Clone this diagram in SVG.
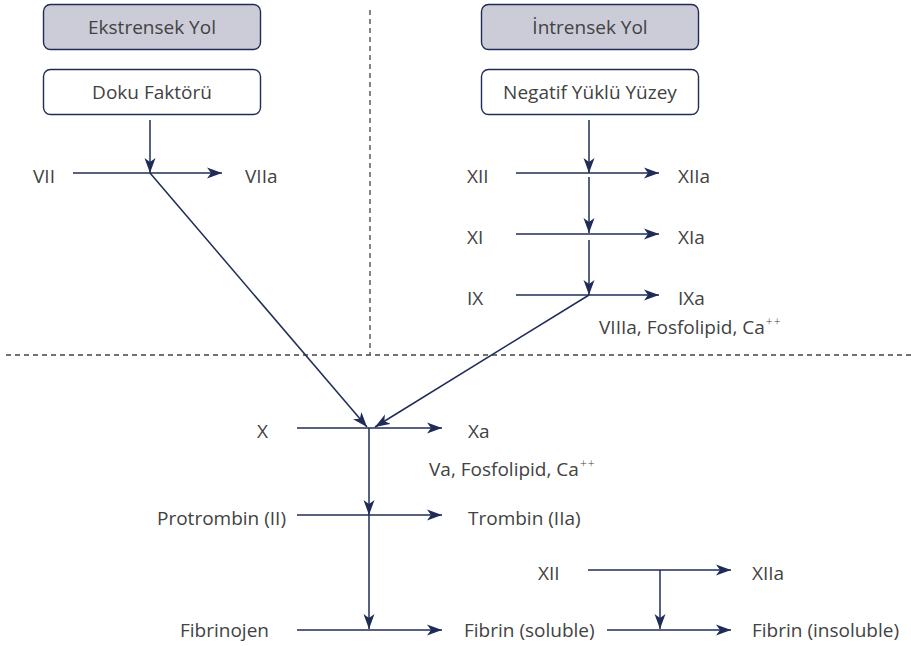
<svg xmlns="http://www.w3.org/2000/svg" width="911" height="646" viewBox="0 0 911 646">
  <defs>
    <marker id="arr" markerUnits="userSpaceOnUse" markerWidth="16" markerHeight="12" viewBox="0 0 16 12" refX="15" refY="6" orient="auto">
      <path d="M0,0.5 L15,6 L0,11.5 L4,6 z" fill="#1f2c58"/>
    </marker>
  </defs>
  <style>
    .box { stroke: #1f2c58; stroke-width: 1.4; }
    .head { fill: #cccbd8; }
    .plain { fill: #ffffff; }
    text { font-family: "Open Sans", "Noto Sans", sans-serif; font-size: 19px; font-weight: 400; fill: #424242; }
    .c { text-anchor: middle; }
    .ln { stroke: #1f2c58; stroke-width: 1.5; fill: none; }
    .ar { marker-end: url(#arr); }
    .dash { stroke: #444444; stroke-width: 1.3; stroke-dasharray: 5 4; fill: none; }
    .sup { font-size: 12px; font-weight: 300; letter-spacing: 1px; }
  </style>
  <rect width="911" height="646" fill="#ffffff"/>

  <!-- pathway separators -->
  <g id="separators">
    <line class="dash" x1="370" y1="10" x2="370" y2="355"/>
    <line class="dash" x1="6" y1="355" x2="911" y2="355"/>
  </g>

  <!-- header and trigger boxes -->
  <g id="ekstrensek">
    <rect class="box head" x="43.5" y="4.5" width="217" height="45" rx="7"/>
    <text class="c" x="152" y="34">Ekstrensek Yol</text>
  </g>
  <g id="doku">
    <rect class="box plain" x="43.5" y="69.5" width="217" height="45" rx="7"/>
    <text class="c" x="152" y="99">Doku Faktörü</text>
  </g>
  <g id="intrensek">
    <rect class="box head" x="481.5" y="4.5" width="217" height="45" rx="7"/>
    <text class="c" x="590" y="34">İntrensek Yol</text>
  </g>
  <g id="negatif">
    <rect class="box plain" x="481.5" y="69.5" width="217" height="45" rx="7"/>
    <text class="c" x="590" y="99">Negatif Yüklü Yüzey</text>
  </g>

  <!-- factor labels -->
  <g id="labels">
    <text x="33" y="183">VII</text>
    <text x="245" y="183">VIIa</text>
    <text x="467" y="183">XII</text>
    <text x="678" y="183">XIIa</text>
    <text x="467" y="244">XI</text>
    <text x="678" y="244">XIa</text>
    <text x="467" y="305">IX</text>
    <text x="678" y="305">IXa</text>
    <text x="599" y="334">VIIIa, Fosfolipid, Ca<tspan class="sup" dx="1" dy="-8">++</tspan></text>
    <text x="257" y="438">X</text>
    <text x="468" y="438">Xa</text>
    <text x="429" y="476">Va, Fosfolipid, Ca<tspan class="sup" dx="1" dy="-8">++</tspan></text>
    <text x="157" y="525">Protrombin (II)</text>
    <text x="468" y="525">Trombin (IIa)</text>
    <text x="538" y="580">XII</text>
    <text x="752" y="580">XIIa</text>
    <text x="180" y="637">Fibrinojen</text>
    <text x="464" y="637">Fibrin (soluble)</text>
    <text x="752" y="637">Fibrin (insoluble)</text>
  </g>

  <!-- reaction arrows -->
  <g id="connectors">
    <line class="ln ar" x1="150" y1="120" x2="150" y2="173"/>
    <line class="ln ar" x1="73" y1="173" x2="222" y2="173"/>
    <line class="ln ar" x1="150" y1="173" x2="367" y2="427"/>

    <line class="ln ar" x1="589" y1="120" x2="589" y2="173"/>
    <line class="ln ar" x1="516" y1="173" x2="659" y2="173"/>
    <line class="ln ar" x1="589" y1="177" x2="589" y2="233"/>
    <line class="ln ar" x1="516" y1="234" x2="659" y2="234"/>
    <line class="ln ar" x1="589" y1="240" x2="589" y2="295"/>
    <line class="ln ar" x1="516" y1="295" x2="659" y2="295"/>
    <line class="ln ar" x1="589" y1="295" x2="375" y2="427"/>

    <line class="ln ar" x1="297" y1="428" x2="442" y2="428"/>
    <line class="ln ar" x1="369" y1="428" x2="369" y2="515"/>
    <line class="ln ar" x1="297" y1="515" x2="442" y2="515"/>
    <line class="ln ar" x1="369" y1="515" x2="369" y2="629"/>
    <line class="ln ar" x1="297" y1="630" x2="442" y2="630"/>

    <line class="ln ar" x1="588" y1="570" x2="731" y2="570"/>
    <line class="ln ar" x1="660" y1="570" x2="660" y2="629"/>
    <line class="ln ar" x1="607" y1="630" x2="731" y2="630"/>
  </g>
</svg>
